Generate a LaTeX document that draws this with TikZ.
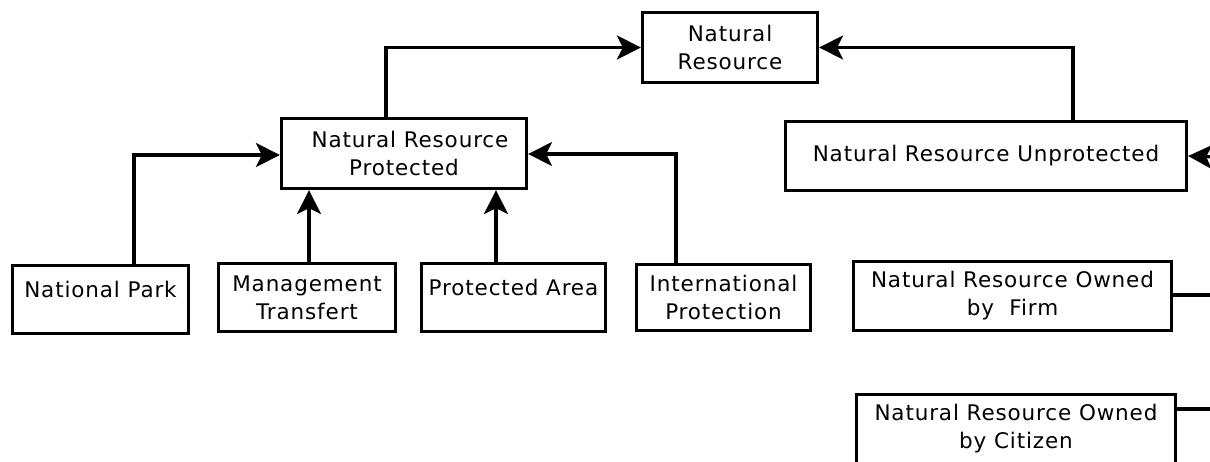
\documentclass[tikz,border=0pt]{standalone}
\usepackage{fontspec}
\setmainfont{DejaVu Sans}[LetterSpace=4]
\usetikzlibrary{arrows.meta}
\tikzset{
  box/.style={draw, line width=3.2pt, inner sep=0pt, align=center, font=\fontsize{21.5}{28}\selectfont},
  link/.style={line width=3.2pt},
  arr/.style={line width=3.2pt, -{Stealth[length=24pt,width=24pt,inset=6pt]}},
}
\begin{document}
\begin{tikzpicture}[x=1pt,y=-1pt]
\useasboundingbox (0,0) rectangle (1210,461);
\clip (0,0) rectangle (1210,461);
\node[box, minimum width=175pt, minimum height=70pt] (nr) at (730,47.5) {Natural\\Resource};
\node[box, minimum width=245pt, minimum height=70pt] (prot) at (404,153.5) {\hspace*{12pt}Natural Resource\\Protected};
\node[box, minimum width=401pt, minimum height=69pt] (unprot) at (986,156) {Natural Resource Unprotected};
\node[box, minimum width=176pt, minimum height=68pt, text depth=20pt] (park) at (100.5,299.5) {National Park};
\node[box, minimum width=177pt, minimum height=68pt] (mgmt) at (307,297.5) {Management\\Transfert};
\node[box, minimum width=184pt, minimum height=68pt, text depth=20pt] (area) at (513.5,297.5) {Protected Area};
\node[box, minimum width=174pt, minimum height=66pt] (intl) at (723.5,297.5) {International\\Protection};
\node[box, minimum width=318pt, minimum height=69pt] (firm) at (1012.5,296) {Natural Resource Owned\\by\ \ Firm};
\node[box, minimum width=319pt, minimum height=69pt] (citizen) at (1016,429) {Natural Resource Owned\\by Citizen};
\coordinate (e1) at (1214,157);
\coordinate (e2) at (1214,295);
\coordinate (e3) at (1214,409);
\draw[arr] (prot.north -| 386,0) |- (nr.west);
\draw[arr] (unprot.north -| 1073,0) |- (nr.east);
\draw[arr] (park.north -| 134,0) |- (prot.west |- 0,155);
\draw[arr] (mgmt.north -| 309,0) -- (prot.south -| 309,0);
\draw[arr] (area.north -| 496,0) -- (prot.south -| 496,0);
\draw[arr] (intl.north -| 676,0) |- (prot.east |- 0,154);
\draw[arr] (e1) -- (unprot.east);
\draw[link] (firm.east |- e2) -- (e2);
\draw[link] (citizen.east |- e3) -- (e3);
\end{tikzpicture}
\end{document}
